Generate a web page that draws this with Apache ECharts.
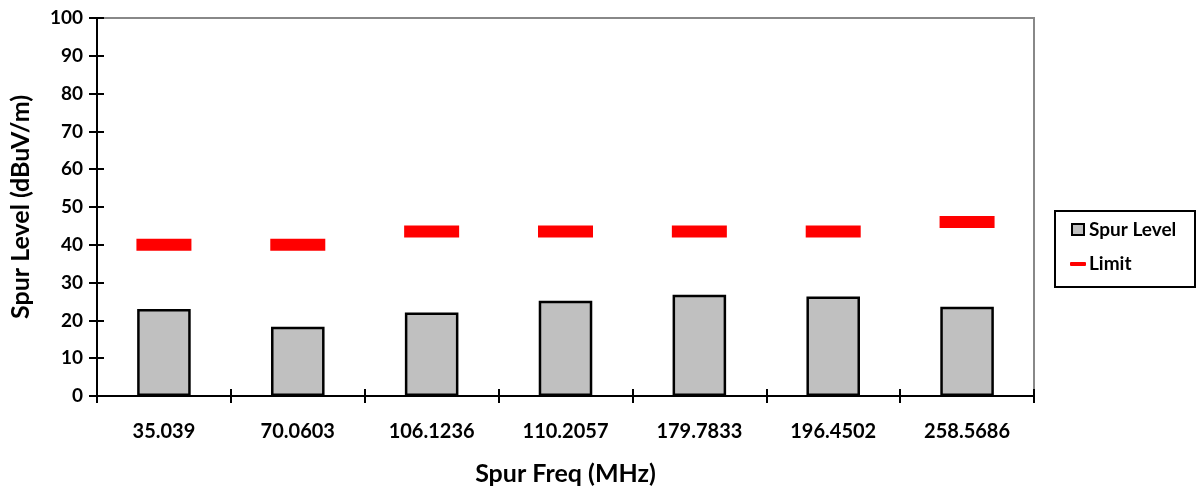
<!DOCTYPE html>
<html>
<head>
<meta charset="utf-8">
<script src="https://cdn.jsdelivr.net/npm/echarts@6/dist/echarts.min.js"></script>
<style>html,body{margin:0;padding:0;background:#fff;}#c{width:1196px;height:495px;}</style>
</head>
<body>
<div id="c"></div>
<script>
const categories = ['35.039','70.0603','106.1236','110.2057','179.7833','196.4502','258.5686'];
const spurLevel = [23.0, 18.3, 22.1, 25.2, 26.8, 26.3, 23.6];
const limit = [40, 40, 43.5, 43.5, 43.5, 43.5, 46];
const yTicks = {min: 0, max: 100, interval: 10};

const FONT = 'Lato';
const chart = echarts.init(document.getElementById('c'));
const commonY = {type: 'value', min: yTicks.min, max: yTicks.max, interval: yTicks.interval};
chart.setOption({
  animation: false,
  backgroundColor: '#fff',
  grid: {left: 97, right: 162, top: 18, bottom: 99, show: true, borderColor: '#888', borderWidth: 2,
         backgroundColor: 'transparent', outerBoundsMode: 'none', containLabel: false},
  xAxis: [{
    type: 'category', data: categories, position: 'bottom',
    axisLine: {lineStyle: {color: '#000', width: 2}},
    axisTick: {show: true, length: 7, lineStyle: {color: '#000', width: 2}},
    axisLabel: {color: '#000', fontFamily: FONT, fontWeight: 'bold', fontSize: 20, margin: 26},
    name: 'Spur Freq (MHz)', nameLocation: 'middle', nameGap: 65,
    nameTextStyle: {color: '#000', fontFamily: FONT, fontWeight: 'bold', fontSize: 25}
  }, {
    type: 'category', data: categories, position: 'bottom',
    axisLine: {show: false},
    axisTick: {show: true, inside: true, length: 7, lineStyle: {color: '#000', width: 2}},
    axisLabel: {show: false}
  }],
  yAxis: [Object.assign({}, commonY, {
    position: 'left',
    axisLine: {show: true, lineStyle: {color: '#000', width: 2}},
    axisTick: {show: true, length: 8, lineStyle: {color: '#000', width: 2}},
    splitLine: {show: false},
    axisLabel: {color: '#000', fontFamily: FONT, fontWeight: 'bold', fontSize: 19, margin: 14},
    name: 'Spur Level (dBuV/m)', nameLocation: 'middle', nameGap: 64, nameRotate: 90,
    nameTextStyle: {color: '#000', fontFamily: FONT, fontWeight: 'bold', fontSize: 25}
  }), Object.assign({}, commonY, {
    position: 'left',
    axisLine: {show: false},
    axisTick: {show: true, inside: true, length: 7, lineStyle: {color: '#000', width: 2}},
    splitLine: {show: false},
    axisLabel: {show: false}
  })],
  series: [{
    name: 'Spur Level', type: 'bar', data: spurLevel, barWidth: '40%',
    itemStyle: {color: '#c0c0c0', borderColor: '#000', borderWidth: 2.5}
  }, {
    name: 'Limit', type: 'scatter', data: limit, symbol: 'rect', symbolSize: [55, 12],
    itemStyle: {color: '#ff0000', opacity: 1}, z: 5
  }],
  graphic: [
    {type: 'rect', shape: {x: 1055, y: 211, width: 140, height: 76}, style: {fill: '#fff', stroke: '#000', lineWidth: 2}},
    {type: 'rect', shape: {x: 1072, y: 224, width: 12, height: 11}, style: {fill: '#c0c0c0', stroke: '#000', lineWidth: 2}},
    {type: 'text', x: 1089, y: 230, style: {text: 'Spur Level', fill: '#000', font: 'bold 19px Lato', textVerticalAlign: 'middle'}},
    {type: 'rect', shape: {x: 1070, y: 262, width: 16, height: 4, r: 1}, style: {fill: '#ff0000'}},
    {type: 'text', x: 1089, y: 264, style: {text: 'Limit', fill: '#000', font: 'bold 19px Lato', textVerticalAlign: 'middle'}}
  ]
});
</script>
</body>
</html>
